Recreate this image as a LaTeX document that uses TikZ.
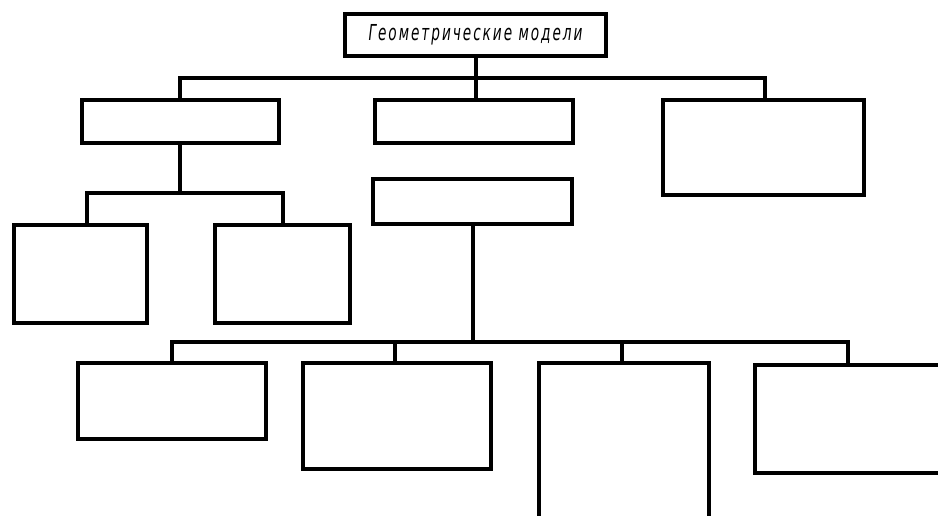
\documentclass[tikz,border=0pt]{standalone}
\usepackage{fontspec}
\usepackage{tikz}
\usetikzlibrary{positioning,calc}
\newfontfamily\gostfont[FakeStretch=0.62,LetterSpace=9]{DejaVu Sans}
\tikzset{
  blk/.style={rectangle, draw=black, line width=4pt, fill=white,
              inner sep=0pt, align=center},
  link/.style={draw=black, line width=4pt},
  ttl/.style={blk, font=\gostfont\itshape\fontsize{22}{24}\selectfont},
}
\begin{document}
\begin{tikzpicture}[x=1pt, y=-1pt]
  \useasboundingbox (0,0) rectangle (938,515);
  \clip (0,0) rectangle (938,515);
  % title
  \node[ttl, minimum width=261pt, minimum height=42pt] (geo) at (475.5,35)
    {Геометрические модели};
  % first row
  \node[blk, minimum width=197pt, minimum height=43pt] (ka) at (180,121.5) {};
  \node[blk, minimum width=198pt, minimum height=43pt] (kb) at (474,121.5) {};
  \node[blk, minimum width=201pt, minimum height=95pt] (kc) at (763,147.5) {};
  % under ka
  \node[blk, minimum width=133pt, minimum height=98pt] (da) at (80.5,274) {};
  \node[blk, minimum width=135pt, minimum height=98pt] (db) at (282.5,274) {};
  % second block in the middle
  \node[blk, minimum width=199pt, minimum height=45pt] (kf) at (472.5,201.5) {};
  % bottom row
  \node[blk, minimum width=188pt, minimum height=76pt] (ga) at (172,401) {};
  \node[blk, minimum width=188pt, minimum height=106pt] (gb) at (397,416) {};
  \node[blk, minimum width=170pt, minimum height=220pt] (gc) at (624,473) {};
  \node[blk, minimum width=240pt, minimum height=108pt] (gd) at (875,419) {};
  % buses
  \coordinate (busA) at (180,78);
  \coordinate (busB) at (765,78);
  \coordinate (busC) at (87,193);
  \coordinate (busD) at (283,193);
  \coordinate (busE) at (172,342);
  \coordinate (busF) at (848,342);
  \coordinate (busG) at (395,342);
  \coordinate (busH) at (622,342);
  \draw[link] (geo.south) -- (geo.south |- busA);
  \draw[link] (busA |- ka.north) -- (busA) -- (busB) -- (busB |- kc.north);
  \draw[link] (geo.south |- busA) -- (geo.south |- kb.north);
  \draw[link] (ka.south) -- (ka.south |- busC);
  \draw[link] (busC |- da.north) -- (busC) -- (busD) -- (busD |- db.north);
  \draw[link] (kf.south) -- (kf.south |- busE);
  \draw[link] (busE |- ga.north) -- (busE) -- (busF) -- (busF |- gd.north);
  \draw[link] (busG) -- (busG |- gb.north);
  \draw[link] (busH) -- (busH |- gc.north);
\end{tikzpicture}
\end{document}
